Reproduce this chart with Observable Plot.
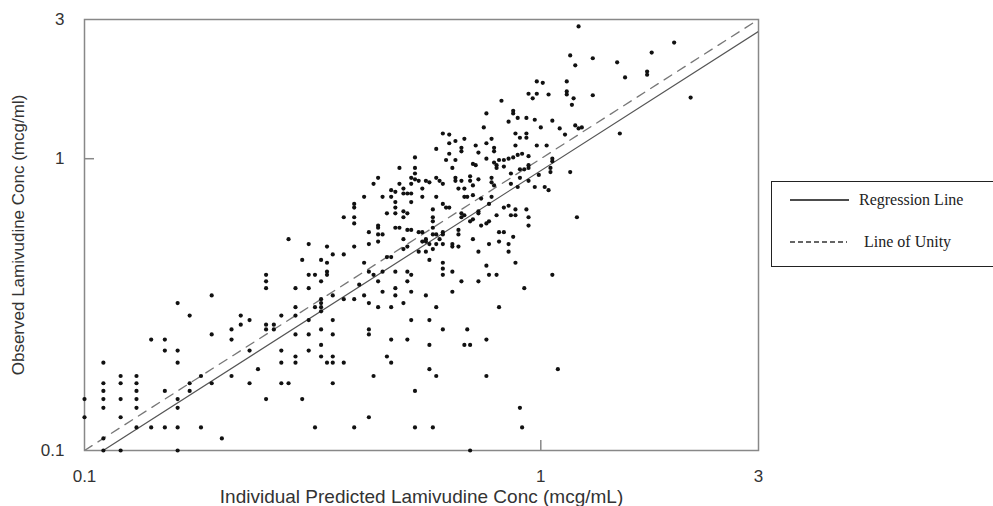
<!DOCTYPE html>
<html>
<head>
<meta charset="utf-8">
<script src="https://cdn.jsdelivr.net/npm/d3@7"></script>
<script src="https://cdn.jsdelivr.net/npm/@observablehq/plot@0.6"></script>
<style>
  html, body { margin: 0; padding: 0; background: #fff; overflow: hidden; }
  #wrap { position: relative; width: 993px; height: 506px; }
  #legend {
    position: absolute; left: 771px; top: 181px; width: 240px; height: 86px;
    border: 1.5px solid #222; box-sizing: border-box; background: #fff;
    font-family: "Liberation Serif", "Times New Roman", serif; font-size: 16px; color: #222;
  }
  #legend .row { position: absolute; left: 0; height: 20px; display: flex; align-items: center; }
  #legend svg { display: block; }
</style>
</head>
<body>
<div id="wrap">
  <div id="chart"></div>
  <div id="legend">
    <div class="row" style="top: 8px;">
      <svg width="87" height="20"><line x1="18" x2="77" y1="10" y2="10" stroke="#111" stroke-width="1.4"/></svg>
      <span>Regression Line</span>
    </div>
    <div class="row" style="top: 50px;">
      <svg width="92" height="20"><line x1="18" x2="75" y1="10" y2="10" stroke="#333" stroke-width="1.3" stroke-dasharray="5,3"/></svg>
      <span>Line of Unity</span>
    </div>
  </div>
</div>
<script>
// Individual predicted concentration (mcg/mL), x
const predicted = [
  // low range
  0.10,0.10,0.11,0.11,0.11,0.11,0.11,0.11,0.11,0.12,0.12,0.12,0.12,0.12,0.13,0.13,0.13,0.13,0.13,0.13,
  0.14,0.14,0.15,0.15,0.15,0.15,0.16,0.16,0.16,0.16,0.16,0.16,0.16,0.17,0.17,0.17,0.18,0.18,0.19,0.19,
  0.19,0.20,0.21,0.21,0.21,0.22,0.22,0.23,0.23,0.23,0.24,0.25,0.25,0.25,0.26,0.26,0.27,0.27,0.27,0.27,
  0.25,0.25,0.25,
  // 0.28 - 0.53
  0.28,0.31,0.30,0.33,0.34,0.35,0.37,0.34,0.37,0.31,
  0.32,0.33,0.34,0.34,0.29,0.31,0.33,0.33,0.33,0.33,
  0.32,0.35,0.29,0.29,0.31,0.29,0.31,0.29,0.29,0.31,
  0.33,0.33,0.33,0.34,0.35,0.37,0.35,0.35,0.35,0.35,
  0.30,0.32,0.39,0.42,0.43,0.42,0.42,0.46,0.47,0.47,
  0.51,0.52,0.53,0.53,0.37,0.39,0.40,0.41,0.42,0.44,
  0.47,0.50,0.45,0.48,0.48,0.52,0.44,0.42,0.41,0.43,
  0.45,0.46,0.47,0.48,0.51,0.52,0.50,0.51,0.39,0.42,
  0.44,0.44,0.39,0.39,0.39,0.39,0.41,0.42,0.44,0.44,
  0.45,0.46,0.48,0.48,0.45,0.44,0.43,0.47,0.49,0.49,
  0.48,0.48,0.50,0.50,0.51,0.50,0.50,0.51,0.48,0.49,
  0.51,0.52,0.50,0.52,0.52,0.52,0.52,0.53,0.53,0.53,
  0.47,0.28,0.51,
  // 0.53 - 1.0, upper
  0.94,0.98,0.96,0.82,0.87,0.87,0.76,0.85,0.89,0.93,
  0.97,0.75,0.88,0.93,0.93,0.90,0.98,0.61,0.63,0.65,
  0.68,0.63,0.59,0.67,0.67,0.72,0.76,0.78,0.73,0.79,
  0.79,0.88,0.91,0.89,0.94,0.63,0.62,0.65,0.81,0.83,
  0.85,0.87,0.76,0.64,0.71,0.72,0.79,0.80,0.80,0.83,
  0.86,0.90,0.92,0.94,0.94,0.99,0.90,0.86,0.89,0.94,
  0.97,0.53,0.54,0.56,0.59,0.60,0.61,0.65,0.65,0.57,
  0.55,0.59,0.55,0.61,0.62,0.63,0.58,0.58,0.58,0.58,
  0.67,0.68,0.70,0.71,0.68,0.69,0.71,0.66,0.70,0.73,
  0.78,0.78,0.79,0.74,0.78,0.77,0.67,0.68,0.67,0.73,
  0.73,0.71,0.70,0.80,0.83,0.85,0.86,0.88,0.88,0.93,
  0.94,0.94,0.74,0.76,0.77,0.54,0.55,0.58,0.59,0.61,
  0.61,0.56,0.56,0.57,0.55,0.60,0.59,0.61,0.66,0.66,
  0.64,0.64,0.66,0.71,0.77,0.81,0.83,0.81,0.85,0.87,
  0.85,0.88,0.73,0.54,0.56,0.58,0.61,0.61,0.61,0.64,
  0.76,0.77,0.80,0.57,
  // 0.53 - 1.1, lower
  0.67,0.73,0.92,0.56,0.64,0.59,0.81,0.57,0.61,0.69,0.76,0.57,0.68,0.70,0.57,0.59,0.76,0.90,0.58,0.91,
  0.70,1.06,1.09,
  // above 1
  1.21,1.96,1.75,1.47,1.16,1.19,1.30,1.71,1.71,1.53,
  1.01,0.98,1.14,1.04,1.14,1.14,1.18,1.30,1.17,2.13,
  1.06,1.00,1.10,1.13,1.19,1.21,1.23,1.49,1.03,1.06,
  1.06,1.05,1.05,1.16,1.02,1.04,1.20
];

// Observed concentration (mcg/ml), y — same order as predicted
const observed = [
  0.15,0.13,0.20,0.17,0.16,0.15,0.14,0.11,0.10,0.18,0.17,0.15,0.13,0.10,0.18,0.17,0.16,0.15,0.14,0.12,
  0.24,0.12,0.24,0.22,0.16,0.12,0.32,0.22,0.20,0.15,0.14,0.12,0.10,0.29,0.17,0.16,0.18,0.12,0.34,0.25,
  0.17,0.11,0.26,0.24,0.18,0.29,0.27,0.28,0.22,0.17,0.19,0.27,0.26,0.15,0.27,0.26,0.29,0.22,0.20,0.17,
  0.40,0.38,0.36,
  0.53,0.51,0.45,0.45,0.44,0.47,0.47,0.50,0.63,0.40,
  0.40,0.38,0.41,0.40,0.36,0.36,0.33,0.32,0.31,0.30,
  0.31,0.34,0.31,0.29,0.28,0.25,0.25,0.21,0.20,0.22,
  0.26,0.23,0.21,0.20,0.20,0.20,0.21,0.25,0.28,0.17,
  0.15,0.12,0.12,0.13,0.18,0.26,0.25,0.21,0.20,0.24,
  0.24,0.28,0.16,0.12,0.33,0.33,0.37,0.34,0.32,0.31,
  0.31,0.32,0.35,0.36,0.34,0.35,0.38,0.41,0.44,0.40,
  0.41,0.46,0.46,0.41,0.41,0.40,0.49,0.50,0.50,0.51,
  0.52,0.55,0.70,0.68,0.63,0.60,0.74,0.56,0.59,0.58,
  0.55,0.65,0.65,0.68,0.74,0.86,0.82,0.74,0.93,0.82,
  0.77,0.71,0.79,0.76,0.76,0.66,0.63,0.65,0.58,0.58,
  0.57,0.57,0.53,0.86,0.82,0.76,0.71,1.01,0.93,0.89,
  0.78,0.17,0.38,
  1.67,1.67,1.61,1.58,1.46,1.43,1.43,1.34,1.38,1.38,
  1.36,1.28,1.22,1.22,1.18,1.18,1.11,1.22,1.21,1.15,
  1.17,1.13,1.08,1.09,1.06,1.11,1.13,1.17,1.05,1.09,
  1.06,1.11,1.04,1.03,1.02,1.04,0.99,0.99,0.99,0.99,
  1.00,1.01,1.00,0.93,0.96,0.95,0.97,0.95,0.93,0.94,
  0.89,0.92,0.92,0.93,0.95,0.88,0.86,0.82,0.80,0.84,
  0.80,0.85,0.84,0.84,0.86,0.84,0.82,0.86,0.84,0.83,
  0.79,0.74,0.74,0.70,0.68,0.68,0.67,0.63,0.61,0.58,
  0.84,0.79,0.84,0.81,0.74,0.74,0.75,0.79,0.87,0.85,
  0.86,0.83,0.81,0.73,0.74,0.70,0.65,0.64,0.63,0.66,
  0.65,0.62,0.61,0.64,0.68,0.69,0.64,0.64,0.67,0.67,
  0.63,0.59,0.59,0.60,0.61,0.56,0.56,0.55,0.55,0.55,
  0.56,0.53,0.52,0.51,0.52,0.53,0.51,0.51,0.57,0.55,
  0.51,0.50,0.50,0.53,0.51,0.56,0.56,0.52,0.51,0.54,
  0.48,0.44,0.48,0.48,0.48,0.49,0.44,0.42,0.40,0.41,
  0.43,0.40,0.40,0.45,
  0.38,0.38,0.36,0.34,0.35,0.31,0.31,0.28,0.26,0.26,0.24,0.23,0.23,0.23,0.19,0.18,0.18,0.14,0.12,0.12,
  0.10,0.40,0.19,
  2.84,2.50,2.31,2.14,2.26,2.09,2.21,1.99,1.94,1.90,
  1.82,1.84,1.84,1.66,1.70,1.66,1.61,1.65,1.53,1.62,
  1.35,1.28,1.27,1.21,1.30,1.27,1.28,1.22,1.11,1.00,
  0.98,0.93,0.90,0.90,0.80,0.78,0.63
];

const axisDomain = [0.1, 3];
const tickValues = [0.1, 1, 3];
const regressionSlope = 0.91; // observed ≈ 0.91 × predicted
const xTitle = "Individual Predicted Lamivudine Conc (mcg/mL)";
const yTitle = "Observed Lamivudine Conc (mcg/ml)";

const points = predicted.map((x, i) => ({x, y: observed[i]}));
const unityLine = axisDomain.map(x => ({x, y: x}));
const regressionLine = axisDomain.map(x => ({x, y: regressionSlope * x}));

const fmt = d => String(d);

const chart = Plot.plot({
  width: 993,
  height: 506,
  marginLeft: 84,
  marginRight: 235,
  marginTop: 19,
  marginBottom: 56,
  style: {fontFamily: "'Liberation Sans', Arial, sans-serif", fontSize: "16px", color: "#333", background: "#fff"},
  x: {type: "log", domain: axisDomain},
  y: {type: "log", domain: axisDomain},
  marks: [
    Plot.frame({stroke: "#888", strokeWidth: 1.5}),
    Plot.line(unityLine, {x: "x", y: "y", stroke: "#777", strokeWidth: 1.3, strokeDasharray: "9,7", clip: true}),
    Plot.line(regressionLine, {x: "x", y: "y", stroke: "#555", strokeWidth: 1.2, clip: true}),
    Plot.axisX({ticks: [1], tickSize: -10, fill: "none", stroke: "#888", strokeWidth: 1.5, label: null}),
    Plot.axisY({ticks: [1], tickSize: -10, fill: "none", stroke: "#888", strokeWidth: 1.5, label: null}),
    Plot.dot(points, {x: "x", y: "y", r: 2.1, fill: "#111", stroke: "none"}),
    Plot.axisX({ticks: tickValues, tickFormat: fmt, tickSize: 0, tickPadding: 19, fontSize: 17, label: null}),
    Plot.axisY({ticks: tickValues, tickFormat: fmt, tickSize: 0, tickPadding: 20, fontSize: 17, label: null}),
    Plot.axisX([], {tickSize: 0, fontSize: 19, label: xTitle, labelAnchor: "center", labelArrow: "none", labelOffset: 52}),
    Plot.axisY([], {tickSize: 0, fontSize: 17, label: yTitle, labelAnchor: "center", labelArrow: "none", labelOffset: 73})
  ]
});
document.getElementById("chart").appendChild(chart);
</script>
</body>
</html>
